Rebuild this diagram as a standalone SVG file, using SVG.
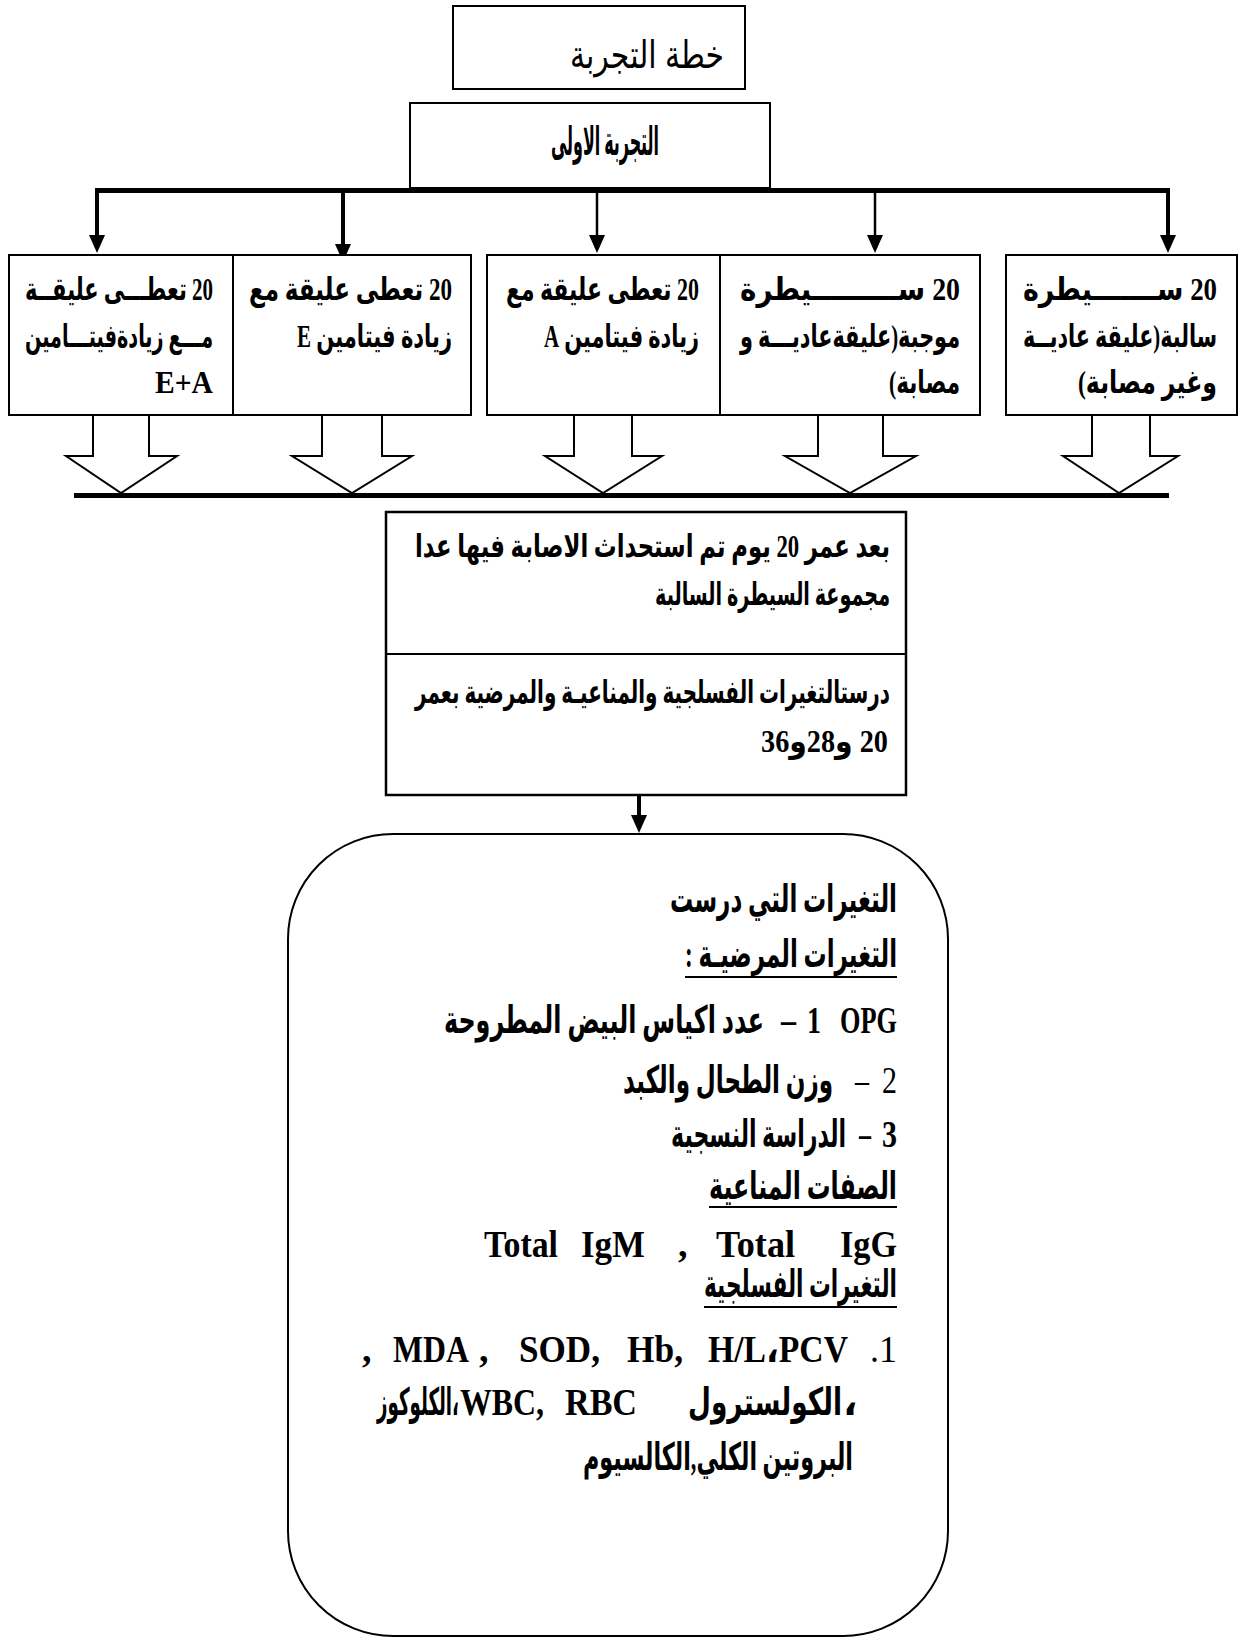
<svg xmlns="http://www.w3.org/2000/svg" width="1245" height="1641" viewBox="0 0 1245 1641">
<defs>
<style>
.frame{fill:#fff;stroke:#000;stroke-width:2}
.t{font-family:"Liberation Serif","DejaVu Sans",serif;font-weight:bold;fill:#000}
.reg{font-weight:normal}
.ar{direction:rtl}
.bx{font-size:32px}
.md{font-size:32px}
.big{font-size:38px}
.lat{font-size:38px}
.ul{stroke:#000;stroke-width:2}
.hollow{fill:#fff;stroke:#000;stroke-width:2}
.bar{stroke:#000;stroke-width:5}
.thick{stroke:#000;stroke-width:4;fill:none}
.thin{stroke:#000;stroke-width:2.5;fill:none}
</style>
<marker id="ah" markerUnits="userSpaceOnUse" markerWidth="18" markerHeight="16" refX="0" refY="8" orient="auto" overflow="visible">
<path d="M0,0 L18,8 L0,16 z" fill="#000"/>
</marker>
</defs>
<rect width="1245" height="1641" fill="#fff"/>

<g id="connectors">
<line class="bar" x1="95" y1="190.5" x2="1170" y2="190.5"/>
<line class="thick" x1="97" y1="190" x2="97" y2="235" marker-end="url(#ah)"/>
<line class="thick" x1="343" y1="190" x2="343" y2="244" marker-end="url(#ah)"/>
<line class="thin" x1="597" y1="190" x2="597" y2="235" marker-end="url(#ah)"/>
<line class="thin" x1="875" y1="190" x2="875" y2="235" marker-end="url(#ah)"/>
<line class="thick" x1="1168" y1="190" x2="1168" y2="235" marker-end="url(#ah)"/>
<polyline class="hollow" points="93,415 93,456 66,456 121,493 177,456 149,456 149,415"/>
<polyline class="hollow" points="322,415 322,456 292,456 352,493 412,456 382,456 382,415"/>
<polyline class="hollow" points="574,415 574,456 545,456 603,493 662,456 632,456 632,415"/>
<polyline class="hollow" points="818,415 818,456 785,456 850,493 916,456 883,456 883,415"/>
<polyline class="hollow" points="1092,415 1092,456 1063,456 1119,493 1178,456 1150,456 1150,415"/>
<line class="bar" x1="74" y1="495.5" x2="1169" y2="495.5"/>
<line class="thick" x1="639" y1="796" x2="639" y2="815" marker-end="url(#ah)"/>
</g>

<g id="node-plan">
<rect class="frame" x="453" y="6" width="292" height="83"/>
<text class="t reg ar" x="647" y="68" font-size="38" text-anchor="middle" textLength="154" lengthAdjust="spacingAndGlyphs" style="font-family:'Liberation Sans','DejaVu Sans',sans-serif">خطة التجربة</text>
</g>

<g id="node-exp1">
<rect class="frame" x="410" y="103" width="360" height="85"/>
<text class="t ar" x="605" y="155" font-size="40" text-anchor="middle" textLength="108" lengthAdjust="spacingAndGlyphs">التجربة الاولى</text>
</g>

<g id="node-group5">
<rect class="frame" x="9" y="255" width="224" height="160"/>
<text class="t ar bx" x="119" y="300" text-anchor="middle" textLength="188" lengthAdjust="spacingAndGlyphs">20 تعطـــى عليقــة</text>
<text class="t ar bx" x="119" y="347" text-anchor="middle" textLength="188" lengthAdjust="spacingAndGlyphs">مـــع زيادةفيتـــامين</text>
<text class="t bx" x="155" y="393" font-size="30" textLength="58" lengthAdjust="spacingAndGlyphs">E+A</text>
</g>

<g id="node-group4">
<rect class="frame" x="233" y="255" width="238" height="160"/>
<text class="t ar bx" x="350.5" y="300" text-anchor="middle" textLength="203" lengthAdjust="spacingAndGlyphs">20 تعطى عليقة مع</text>
<text class="t ar bx" x="374.5" y="347" text-anchor="middle" textLength="155" lengthAdjust="spacingAndGlyphs">زيادة فيتامين E</text>
</g>

<g id="node-group3">
<rect class="frame" x="487" y="255" width="233" height="160"/>
<text class="t ar bx" x="602.5" y="300" text-anchor="middle" textLength="193" lengthAdjust="spacingAndGlyphs">20 تعطى عليقة مع</text>
<text class="t ar bx" x="621.5" y="347" text-anchor="middle" textLength="155" lengthAdjust="spacingAndGlyphs">زيادة فيتامين A</text>
</g>

<g id="node-group2">
<rect class="frame" x="720" y="255" width="260" height="160"/>
<text class="t ar bx" x="850" y="300" text-anchor="middle" textLength="220" lengthAdjust="spacingAndGlyphs">20 ســـــــــيطرة</text>
<text class="t ar bx" x="850" y="347" text-anchor="middle" textLength="220" lengthAdjust="spacingAndGlyphs">موجبة(عليقةعاديـــة و</text>
<text class="t ar bx" x="924.5" y="393" text-anchor="middle" textLength="71" lengthAdjust="spacingAndGlyphs">مصابة)</text>
</g>

<g id="node-group1">
<rect class="frame" x="1006" y="255" width="231" height="160"/>
<text class="t ar bx" x="1120" y="300" text-anchor="middle" textLength="194" lengthAdjust="spacingAndGlyphs">20 ســـــــيطرة</text>
<text class="t ar bx" x="1120" y="347" text-anchor="middle" textLength="194" lengthAdjust="spacingAndGlyphs">سالبة(عليقة عاديــة</text>
<text class="t ar bx" x="1147.5" y="393" text-anchor="middle" textLength="139" lengthAdjust="spacingAndGlyphs">وغير مصابة)</text>
</g>

<g id="node-procedure">
<rect class="frame" x="386" y="512" width="520" height="283" style="stroke-width:2.5"/>
<line class="ul" x1="386" y1="654" x2="906" y2="654"/>
<text class="t ar md" x="652.5" y="557" text-anchor="middle" textLength="475" lengthAdjust="spacingAndGlyphs">بعد عمر 20 يوم تم استحداث الاصابة فيها عدا</text>
<text class="t ar md" x="772.5" y="605" text-anchor="middle" textLength="235" lengthAdjust="spacingAndGlyphs">مجموعة السيطرة السالبة</text>
<text class="t ar md" x="652.5" y="703" text-anchor="middle" textLength="475" lengthAdjust="spacingAndGlyphs">درستالتغيرات الفسلجية والمناعيـة والمرضية بعمر</text>
<text class="t ar md" x="824.5" y="752" font-size="30" text-anchor="middle" textLength="127" lengthAdjust="spacingAndGlyphs">20 و28و36</text>
</g>

<g id="node-measures">
<rect class="frame" x="288" y="834" width="660" height="802" rx="105" ry="105"/>
<text class="t ar big" x="783.5" y="912" text-anchor="middle" textLength="227" lengthAdjust="spacingAndGlyphs">التغيرات  التي درست</text>
<text class="t ar big" x="791" y="967" text-anchor="middle" textLength="212" lengthAdjust="spacingAndGlyphs">التغيرات المرضيـة :</text>
<line class="ul" x1="685" y1="977" x2="897" y2="977"/>
<text class="t lat" x="840" y="1033" textLength="57" lengthAdjust="spacingAndGlyphs">OPG</text>
<text class="t lat" x="807" y="1033" textLength="14" lengthAdjust="spacingAndGlyphs">1</text>
<text class="t lat" x="781" y="1033" textLength="15" lengthAdjust="spacingAndGlyphs">–</text>
<text class="t ar big" x="604" y="1033" text-anchor="middle" textLength="320" lengthAdjust="spacingAndGlyphs">عدد اكياس البيض المطروحة</text>
<text class="t reg lat" x="882" y="1093" textLength="15" lengthAdjust="spacingAndGlyphs">2</text>
<text class="t reg lat" x="855" y="1093" textLength="14" lengthAdjust="spacingAndGlyphs">–</text>
<text class="t ar big" x="728" y="1093" text-anchor="middle" textLength="210" lengthAdjust="spacingAndGlyphs">وزن الطحال والكبد</text>
<text class="t lat" x="882" y="1147" textLength="15" lengthAdjust="spacingAndGlyphs">3</text>
<text class="t lat" x="859" y="1147" textLength="12" lengthAdjust="spacingAndGlyphs">–</text>
<text class="t ar big" x="758.5" y="1147" text-anchor="middle" textLength="175" lengthAdjust="spacingAndGlyphs">الدراسة النسجية</text>
<text class="t ar big" x="803" y="1199" text-anchor="middle" textLength="188" lengthAdjust="spacingAndGlyphs">الصفات المناعية</text>
<line class="ul" x1="709" y1="1207" x2="897" y2="1207"/>
<text class="t lat" x="484" y="1257" textLength="74" lengthAdjust="spacingAndGlyphs">Total</text>
<text class="t lat" x="581" y="1257" textLength="64" lengthAdjust="spacingAndGlyphs">IgM</text>
<text class="t lat" x="678" y="1257">,</text>
<text class="t lat" x="716" y="1257" textLength="79" lengthAdjust="spacingAndGlyphs">Total</text>
<text class="t lat" x="840" y="1257" textLength="57" lengthAdjust="spacingAndGlyphs">IgG</text>
<text class="t ar big" x="800.5" y="1297" text-anchor="middle" textLength="193" lengthAdjust="spacingAndGlyphs">التغيرات الفسلجية</text>
<line class="ul" x1="704" y1="1307" x2="897" y2="1307"/>
<text class="t lat" x="362" y="1362">,</text>
<text class="t lat" x="393" y="1362" textLength="76" lengthAdjust="spacingAndGlyphs">MDA</text>
<text class="t lat" x="479" y="1362">,</text>
<text class="t lat" x="519" y="1362" textLength="81" lengthAdjust="spacingAndGlyphs">SOD,</text>
<text class="t lat" x="627" y="1362" textLength="56" lengthAdjust="spacingAndGlyphs">Hb,</text>
<text class="t lat" x="708" y="1362" textLength="140" lengthAdjust="spacingAndGlyphs">H/L،PCV</text>
<text class="t reg lat" x="870" y="1362" textLength="27" lengthAdjust="spacingAndGlyphs">.1</text>
<text class="t big" x="377" y="1415" textLength="82" lengthAdjust="spacingAndGlyphs">الكلوكوز،</text>
<text class="t lat" x="460" y="1415" textLength="84" lengthAdjust="spacingAndGlyphs">WBC,</text>
<text class="t lat" x="565" y="1415" textLength="72" lengthAdjust="spacingAndGlyphs">RBC</text>
<text class="t ar big" x="765" y="1415" text-anchor="middle" textLength="154" lengthAdjust="spacingAndGlyphs">الكولسترول</text>
<text class="t big" x="843" y="1415">،</text>
<text class="t ar big" x="718" y="1470" text-anchor="middle" textLength="270" lengthAdjust="spacingAndGlyphs">البروتين الكلي,الكالسيوم</text>
</g>
</svg>
